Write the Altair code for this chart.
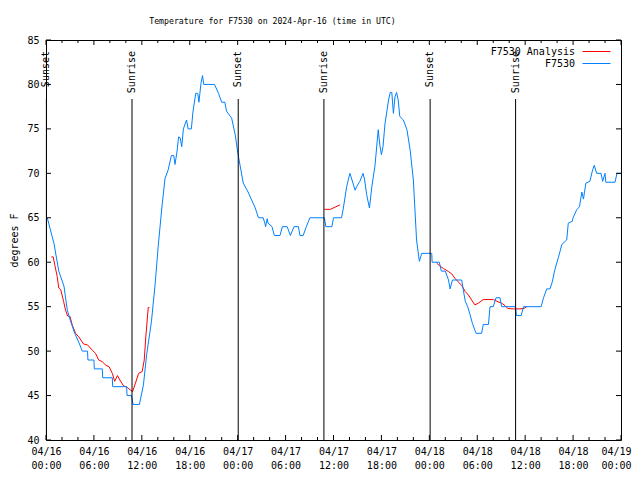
import altair as alt
import pandas as pd

# ---------------- data (hours since 2024-04-16 00:00 UTC) ----------------
obs_hours = [0.16, 1.0, 1.6, 2.25, 2.67, 3.1, 3.6, 4.1, 4.55, 5.2, 5.25, 6.0, 6.05, 7.05, 7.1, 8.3, 8.35,
             10.1, 10.15, 10.7, 10.9, 11.7, 12.2, 12.6, 13.2, 13.65, 14.06, 14.5, 14.9, 15.3, 15.7, 16.0,
             16.15, 16.4, 16.6, 16.8, 17.0, 17.2, 17.6, 17.8, 18.2, 18.4, 18.75, 19.0, 19.15, 19.4, 19.6,
             19.75, 21.1, 21.6, 22.0, 22.4, 22.6, 23.25, 23.7, 24.0, 24.3, 24.7, 25.3, 25.75, 26.2, 26.6,
             27.2, 27.4, 27.5, 27.7, 27.8, 28.3, 28.6, 29.3, 29.6, 30.2, 30.6, 31.05, 31.6, 31.8, 32.2,
             32.6, 33.05, 34.85, 35.05, 35.8, 36.0, 37.0, 37.2, 37.65, 38.05, 38.2, 38.7, 38.9, 39.3, 39.7,
             39.9, 40.15, 40.5, 40.8, 41.2, 41.6, 41.8, 42.0, 42.2, 42.45, 42.9, 43.1, 43.3, 43.5, 43.7,
             43.9, 44.1, 44.3, 44.75, 45.2, 45.6, 46.0, 46.4, 46.75, 47.05, 48.3, 48.35, 49.25, 49.5, 50.0,
             50.4, 50.6, 50.9, 52.05, 52.25, 52.5, 52.8, 53.1, 53.4, 53.85, 54.55, 54.75, 55.4, 55.6, 56.0,
             56.35, 56.85, 57.05, 58.8, 58.9, 59.5, 59.8, 62.0, 62.3, 62.7, 63.1, 63.4, 63.7, 64.15, 64.6,
             65.2, 65.4, 65.9, 66.0, 66.45, 66.8, 67.1, 67.3, 67.6, 68.1, 68.45, 68.65, 68.95, 69.5, 69.7,
             70.0, 70.1, 71.25, 71.5, 72.0]
obs_temps = [65.0, 62.1, 59.0, 57.3, 54.6, 53.3, 52.0, 51.0, 50.0, 50.0, 49.0, 49.0, 48.0, 48.0, 47.0, 47.0, 46.0,
             46.0, 45.0, 45.0, 44.0, 44.0, 46.2, 49.6, 53.3, 57.4, 61.9, 66.1, 69.4, 70.4, 72.0, 72.0,
             71.0, 72.4, 74.1, 74.0, 73.0, 75.0, 76.0, 75.0, 75.0, 76.9, 79.0, 79.0, 78.0, 80.1, 81.0,
             80.0, 80.0, 79.0, 78.0, 78.0, 77.0, 76.2, 74.3, 72.4, 70.9, 68.9, 67.9, 67.0, 66.1, 65.0,
             65.0, 64.4, 64.0, 64.9, 64.4, 64.0, 63.0, 63.0, 64.0, 64.0, 63.0, 64.0, 64.0, 63.0, 63.0,
             64.0, 65.0, 65.0, 64.0, 64.0, 65.0, 65.0, 65.9, 68.5, 70.0, 69.6, 68.1, 68.5, 69.1, 70.0,
             69.25, 67.6, 66.1, 68.5, 70.9, 74.9, 73.2, 72.1, 73.0, 75.6, 78.25, 79.1, 79.1, 76.75, 78.6,
             79.1, 78.25, 76.4, 76.0, 74.9, 72.6, 69.25, 62.5, 60.1, 61.0, 61.0, 60.0, 60.0, 59.0, 59.0,
             58.0, 57.0, 58.0, 58.0, 56.9, 55.6, 55.0, 54.1, 53.1, 52.0, 52.0, 53.0, 53.0, 55.0, 55.0,
             56.0, 56.0, 55.0, 55.0, 54.0, 54.0, 55.0, 55.0, 56.0, 57.0, 57.0, 57.8, 59.1, 60.5, 62.0,
             62.5, 64.4, 64.6, 65.0, 65.9, 66.25, 67.9, 67.1, 68.9, 69.1, 70.4, 70.9, 70.0, 70.0, 69.1,
             70.0, 69.0, 69.0, 70.0, 70.0]

ana_hours = [0.67, 0.9, 1.1, 1.4, 1.6, 1.85, 2.2, 2.45, 2.7, 3.0, 3.3, 3.7, 4.1, 4.7, 5.2, 5.8, 6.2, 6.6,
             7.05, 7.5, 7.9, 8.3, 8.6, 8.95, 9.25, 9.7, 10.2, 10.6, 10.85, 11.2, 11.6, 12.05, 12.3, 12.5,
             12.8, 12.95,
             34.85, 35.6, 36.2, 36.8,
             48.9, 49.3, 49.75, 50.4, 50.8, 51.2, 51.6, 52.05, 52.5, 52.9, 53.3, 53.7, 54.15, 54.75, 56.0,
             56.6, 57.05, 57.5, 57.8, 58.5, 59.35, 59.85, 60.2]
ana_temps = [60.6, 60.6, 59.7, 58.4, 57.1, 56.9, 55.6, 54.6, 53.95, 53.9, 52.9, 52.0, 51.6, 50.8, 50.7, 50.1,
             49.75, 49.0, 48.8, 48.4, 48.25, 47.5, 46.6, 47.25, 46.75, 46.1, 45.9, 45.6, 45.45, 46.4, 47.5,
             47.7, 49.0, 51.6, 54.9, 54.9,
             65.95, 65.95, 66.2, 66.45,
             59.9, 59.6, 59.3, 58.95, 58.7, 58.2, 57.8, 57.4, 56.7, 56.3, 55.75, 55.2, 55.4, 55.8, 55.8,
             55.55, 55.4, 55.1, 54.8, 54.75, 54.75, 54.8, 55.0]
ana_segment = [1] * 36 + [2] * 4 + [3] * 23

sun_hours = [0.05, 10.77, 24.07, 34.8, 48.1, 58.8]
sun_labels = ["Sunset", "Sunrise", "Sunset", "Sunrise", "Sunset", "Sunrise"]

x_major_ticks = list(range(0, 73, 6))
x_minor_ticks = [h for h in range(0, 73, 2) if h % 6]
y_ticks = list(range(40, 86, 5))

series_names = ["F7530 Analysis", "F7530"]
series_colors = ["#ff0000", "#0080ff"]

FONT = "DejaVu Sans Mono"
W, H = 575, 400

obs = pd.DataFrame({"hour": obs_hours, "temp": obs_temps, "series": "F7530"})
ana = pd.DataFrame({"hour": ana_hours, "temp": ana_temps, "seg": ana_segment, "series": "F7530 Analysis"})
sun = pd.DataFrame({"hour": sun_hours, "label": sun_labels})
xmaj = pd.DataFrame({"t": x_major_ticks})
xmin = pd.DataFrame({"t": x_minor_ticks})
ytk = pd.DataFrame({"v": y_ticks})

x_scale = alt.Scale(domain=[0, 72], nice=False, zero=False)
y_scale = alt.Scale(domain=[40, 85], nice=False, zero=False)
color_scale = alt.Scale(domain=series_names, range=series_colors)

label_expr = ("['04/' + (16 + floor(datum.value / 24)), "
              "(datum.value % 24 < 10 ? '0' : '') + (datum.value % 24) + ':00']")

x_axis = alt.Axis(values=x_major_ticks, labelExpr=label_expr, title=None, grid=False, ticks=False,
                  domain=False, labelFont=FONT, labelFontSize=10, labelColor="black", labelPadding=6,
                  labelLineHeight=14, labelOverlap=False, labelBound=False, labelFlush=False,
                  labelOffset={"condition": {"test": "datum.value == 72", "value": -5}, "value": 0})
y_axis = alt.Axis(values=y_ticks, title="degrees F", grid=False, ticks=False, domain=False,
                  labelFont=FONT, labelFontSize=10, labelColor="black", labelPadding=7,
                  titleFont=FONT, titleFontSize=10, titleFontWeight="normal", titleColor="black",
                  titleX=-32, titleY=H / 2, titleAngle=270, titleAlign="center", titleBaseline="middle")

legend = alt.Legend(title=None, orient="none", legendX=536, legendY=5, symbolType="M-1,0H3.667",
                    symbolSize=144, symbolStrokeWidth=1, labelFont=FONT, labelFontSize=10,
                    labelColor="black", labelAlign="right", labelOffset={"expr": "-20"},
                    rowPadding=0, padding=0)

X = lambda f: alt.X(f, scale=x_scale, axis=x_axis)
Y = lambda f: alt.Y(f, scale=y_scale, axis=y_axis)

ana_line = alt.Chart(ana).mark_line(strokeWidth=1).encode(
    x=X("hour:Q"), y=Y("temp:Q"),
    color=alt.Color("series:N", scale=color_scale, legend=legend),
    detail="seg:N",
)
obs_line = alt.Chart(obs).mark_line(strokeWidth=1).encode(
    x=X("hour:Q"), y=Y("temp:Q"),
    color=alt.Color("series:N", scale=color_scale, legend=legend),
)

sun_rule = alt.Chart(sun).mark_rule(color="black", strokeWidth=1).encode(
    x=X("hour:Q"), y=alt.value(59), y2=alt.value(H))
sun_text = alt.Chart(sun).mark_text(angle=270, align="right", baseline="middle", font=FONT,
                                    fontSize=10, color="black").encode(
    x=X("hour:Q"), y=alt.value(11), text="label:N")

def xticks(df, y0, y1):
    return alt.Chart(df).mark_rule(color="black", strokeWidth=1).encode(
        x=X("t:Q"), y=alt.value(y0), y2=alt.value(y1))

def yticks(x0, x1):
    return alt.Chart(ytk).mark_rule(color="black", strokeWidth=1).encode(
        y=Y("v:Q"), x=alt.value(x0), x2=alt.value(x1))

ticks = [xticks(xmaj, H, H - 5), xticks(xmaj, 0, 5), xticks(xmin, H, H - 3), xticks(xmin, 0, 3),
         yticks(0, 5), yticks(W, W - 5)]

chart = alt.layer(
    ana_line, obs_line, sun_rule, sun_text, *ticks
).properties(
    width=W, height=H,
    title=alt.TitleParams(text="Temperature for F7530 on 2024-Apr-16 (time in UTC)", font=FONT,
                          fontSize=8.2, fontWeight="normal", color="black", anchor="middle",
                          frame="group", dx=-61, offset=1, baseline="bottom"),
    autosize=alt.AutoSizeParams(type="none"),
    padding={"left": 38, "top": 32, "right": 11, "bottom": 32},
    background="white",
).configure_view(stroke="black", strokeWidth=1)

chart.save("out.html", embed_options={"renderer": "svg", "actions": False})
